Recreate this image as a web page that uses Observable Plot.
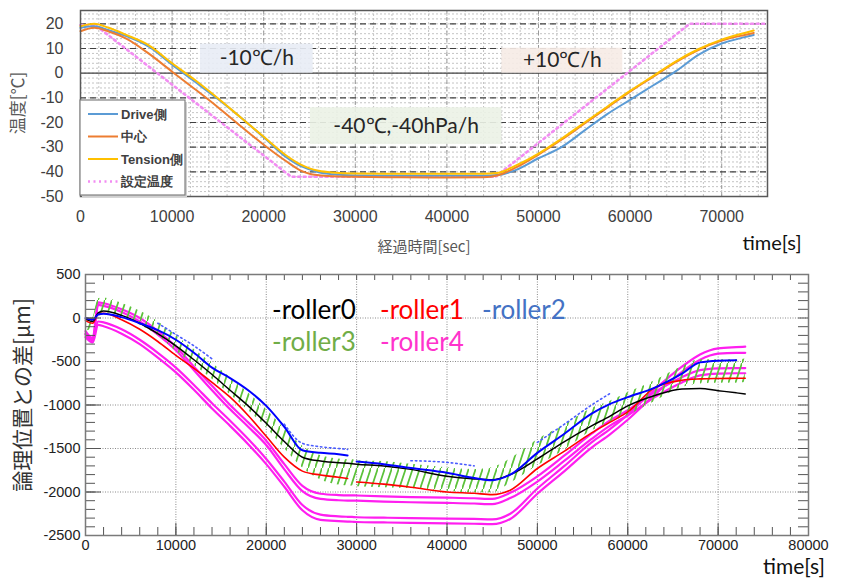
<!DOCTYPE html>
<html><head><meta charset="utf-8">
<script src="https://cdn.jsdelivr.net/npm/d3@7"></script>
<script src="https://cdn.jsdelivr.net/npm/@observablehq/plot@0.6"></script>
<style>
body{margin:0;background:#fff;}
#wrap{position:relative;width:844px;height:578px;overflow:hidden;}
#top{position:absolute;left:0;top:0;}
#bot{position:absolute;left:0;top:258px;}
svg{overflow:visible;}
</style></head><body><div id="wrap"><div id="top"></div><div id="bot"></div></div>
<script>
// ---------- TOP PANEL DATA (temperature, °C) ----------
const tTop = [0, 1500, 3000, 5000, 7500, 10000, 12500, 15000, 17500, 20000, 22500, 24000, 25000, 26000, 27500, 30000, 35000, 40000, 44000, 45500, 47500, 50000, 52500, 55000, 57500, 60000, 62500, 65000, 67500, 70000, 72500, 73500];
const driveTemp   = [18.4, 19, 17.5, 15, 10.6, 3.4, -3.5, -10.5, -18, -26, -34.2, -37.6, -39, -40.2, -41, -41.5, -41.6, -41.6, -41.6, -41.3, -39.3, -34.5, -30, -23.3, -16.6, -10.8, -5, 0.8, 7.5, 12, 14.6, 15.5];
const centerTemp  = [17, 18.4, 17, 14, 7.8, 0.6, -6.5, -13.8, -21.5, -29, -35.8, -39.4, -40.8, -41.4, -41.8, -42, -42.2, -42.3, -42.2, -41.5, -38.3, -33, -27, -20.5, -14, -7.5, -1.5, 4.5, 9.5, 13.2, 15.5, 16.3];
const tensionTemp = [19, 20, 18.5, 15.5, 11.2, 4.0, -2.8, -10.2, -18, -25.8, -33.5, -37, -38.6, -39.6, -40.3, -40.7, -40.8, -40.8, -40.8, -40.5, -37.5, -32.6, -26.6, -20.1, -13.6, -7.2, -1.2, 4.8, 9.8, 13.6, 16.3, 17.3];
const tSet = [0, 1600, 23000, 45300, 66500, 75000];
const setTemp = [19.5, 19.5, -42, -42, 20, 20];
const topXTicks = [0, 10000, 20000, 30000, 40000, 50000, 60000, 70000];
const topYTicks = [-50, -40, -30, -20, -10, 0, 10, 20];
const topNames = ["Drive側", "中心", "Tension側", "設定温度"];
const topColors = ["#5b9bd5", "#ed7d31", "#ffc000", "#f28cf2"];
const noteLabels = ["-10℃/h", "-40℃,-40hPa/h", "+10℃/h"];
const noteX1 = [13100, 25100, 46000];
const noteX2 = [25400, 46000, 59200];
const noteY1 = [0, -28.9, 0];
const noteY2 = [11.8, -14, 10.1];
const noteFills = ["#e8ecf5", "#ebf2e6", "#f6ebe5"];

// ---------- BOTTOM PANEL DATA (µm) ----------
const T = [0, 800, 1400, 2000, 4000, 6000, 8000, 10000, 12000, 14000, 16000, 18000, 20000, 22000, 24000, 26000, 28000, 29000, 29500, 30000, 33000, 36000, 40000, 43000, 45000, 47000, 50000, 53000, 56000, 58000, 60000, 63000, 66000, 68000, 70000, 72000, 73000];
const roller0 = [-10, -40, 60, 80, 30, -60, -180, -320, -480, -650, -830, -1010, -1210, -1420, -1600, -1645, -1665, -1670, -1675, -1680, -1700, -1740, -1820, -1850, -1860, -1800, -1620, -1420, -1240, -1130, -1010, -890, -815, -810, -835, -860, -873];
const roller1 = [-30, -60, 50, 55, -20, -130, -270, -430, -580, -740, -910, -1120, -1360, -1600, -1760, -1805, -1830, -1845, null, -1885, -1910, -1945, -2000, -2015, -2030, -1980, -1730, -1530, -1320, -1200, -1080, -800, -715, -700, -695, -693, -692];
const roller2 = [0, -20, 40, 50, 10, -60, -140, -250, -400, -570, -690, -830, -1010, -1250, -1520, -1550, -1565, -1580, null, -1650, -1680, -1725, -1780, -1840, -1865, -1800, -1550, -1330, -1100, -990, -910, -800, -640, -510, -490, -485, null];
const roller2b = [null, null, null, null, null, null, -60, -190, -320, -470, null, null, null, -1220, -1440, -1480, -1500, -1510, null, null, null, -1640, -1660, -1700, null, null, -1430, -1220, -1000, -870, null, null, null, null, null, null, null];
const roller3Hi = [-20, 0, 220, 230, 170, 80, -40, -200, -360, -520, -680, -860, -1050, -1270, -1470, -1580, -1620, -1630, -1630, -1640, -1650, -1680, -1720, -1740, -1720, -1620, -1400, -1230, -1040, -960, -860, -720, -560, -480, -480, -480, -470];
const roller3Lo = [-150, -120, 0, 60, 20, -80, -200, -380, -540, -700, -880, -1060, -1260, -1500, -1720, -1860, -1920, -1930, -1930, -1940, -1950, -1960, -1990, -2010, -2010, -1900, -1700, -1520, -1300, -1200, -1120, -960, -800, -760, -750, -750, -740];
const roller4a = [-150, -230, 180, 170, 100, 0, -150, -330, -560, -780, -1000, -1200, -1410, -1680, -1930, -2020, -2035, -2038, -2038, -2040, -2050, -2058, -2065, -2072, -2080, -2010, -1820, -1580, -1330, -1180, -1060, -850, -680, -600, -580, -575, -575];
const roller4b = [-190, -260, 150, 140, 70, -40, -190, -370, -600, -830, -1050, -1250, -1460, -1740, -1990, -2080, -2095, -2098, -2098, -2100, -2110, -2118, -2125, -2132, -2140, -2070, -1880, -1640, -1390, -1240, -1120, -910, -740, -660, -640, -635, -635];
const roller4c = [-180, -240, -40, -50, -130, -250, -400, -570, -770, -980, -1180, -1390, -1620, -1880, -2150, -2260, -2280, -2285, -2287, -2290, -2295, -2300, -2305, -2310, -2315, -2250, -1960, -1700, -1430, -1280, -1110, -820, -560, -420, -350, -335, -330];
const roller4d = [-220, -280, -80, -95, -180, -300, -455, -625, -825, -1040, -1240, -1450, -1680, -1940, -2210, -2320, -2335, -2340, -2342, -2345, -2350, -2355, -2360, -2365, -2370, -2310, -2020, -1760, -1490, -1340, -1170, -880, -620, -480, -410, -400, -400];
const botXTicks = [0, 10000, 20000, 30000, 40000, 50000, 60000, 70000, 80000];
const botYTicks = [-2500, -2000, -1500, -1000, -500, 0, 500];
const rollerNames = ["-roller0", "-roller1", "-roller2", "-roller3", "-roller4"];
const rollerTextColors = ["#000000", "#ff0000", "#4472c4", "#70ad47", "#ff33cc"];

// ---------- helpers ----------
const rows = (t, v) => t.map((x, i) => ({t: x, v: v[i]}));
const fmt = d => String(d);
const sansFont = "'Liberation Sans', Arial, sans-serif";
const jpFont = "'Noto Sans CJK JP', sans-serif";
const latoFont = "Lato, 'Open Sans', sans-serif";

// ---------- TOP PLOT ----------
const topLines = [driveTemp, centerTemp, tensionTemp].map((vals, i) =>
  Plot.line(rows(tTop, vals), {x: "t", y: "v", stroke: topColors[i], strokeWidth: 2, curve: "monotone-x"}));

const noteMarks = noteLabels.flatMap((lab, i) => [
  Plot.rect([i], {x1: () => noteX1[i], x2: () => noteX2[i], y1: () => noteY1[i], y2: () => noteY2[i], fill: noteFills[i], fillOpacity: 0.9}),
  Plot.text([i], {x: () => (noteX1[i] + noteX2[i]) / 2, y: () => (noteY1[i] + noteY2[i]) / 2, text: () => lab, fontSize: 21, fontFamily: latoFont, fill: "#262626"})
]);

const topPlot = Plot.plot({
  width: 844, height: 258,
  marginLeft: 80, marginRight: 77, marginTop: 10, marginBottom: 62,
  style: {fontFamily: sansFont, fontSize: "16px", color: "#404040", background: "transparent"},
  x: {domain: [0, 75000]},
  y: {domain: [-50, 25.4]},
  marks: [
    Plot.gridX(d3.range(2000, 75000, 2000), {stroke: "#c4c4c4", strokeOpacity: 1, strokeDasharray: "2,2"}),
    Plot.gridY(d3.range(-48, 25, 2), {stroke: "#c4c4c4", strokeOpacity: 1, strokeDasharray: "2,2"}),
    Plot.gridX(topXTicks.slice(1), {stroke: "#9a9a9a", strokeOpacity: 1, strokeDasharray: "4,3"}),
    Plot.gridY(topYTicks.filter(d => d !== 0 && d !== -50), {stroke: "#404040", strokeOpacity: 1, strokeDasharray: "6,4", strokeWidth: 1.2}),
    Plot.ruleY([0], {stroke: "#404040", strokeWidth: 1.2}),
    ...noteMarks,
    Plot.line(rows(tSet, setTemp), {x: "t", y: "v", stroke: topColors[3], strokeWidth: 2.6, strokeDasharray: "2,3.5"}),
    ...topLines,
    Plot.frame({stroke: "#595959", strokeWidth: 1.5}),
    Plot.axisX({ticks: topXTicks, tickSize: 0, tickPadding: 14, tickFormat: fmt, label: null}),
    Plot.axisY({ticks: topYTicks, tickSize: 0, tickPadding: 17, tickFormat: fmt, label: null})
  ]
});
document.getElementById("top").appendChild(topPlot);

const st = d3.select(topPlot);
// legend
const lg = st.append("g").attr("text-anchor", "start");
lg.append("rect").attr("x", 82).attr("y", 102).attr("width", 105).attr("height", 95).attr("fill", "#d0d0d0");
lg.append("rect").attr("x", 80).attr("y", 100).attr("width", 105).attr("height", 95).attr("fill", "#fff").attr("stroke", "#808080").attr("stroke-width", 1.2);
topNames.forEach((name, i) => {
  const y = 114 + i * 22.5;
  lg.append("line").attr("x1", 88).attr("x2", 118).attr("y1", y).attr("y2", y)
    .attr("stroke", topColors[i]).attr("stroke-width", i === 3 ? 2.6 : 2)
    .attr("stroke-dasharray", i === 3 ? "2,3.5" : null);
  lg.append("text").attr("x", 121).attr("y", y).attr("dy", "0.35em").attr("text-anchor", "start")
    .attr("font-family", sansFont).attr("font-size", 13).attr("font-weight", "bold")
    .attr("fill", "#404040").text(name);
});
st.append("text").attr("transform", "translate(18,103) rotate(-90)").attr("text-anchor", "middle")
  .attr("dy", "0.35em").attr("font-family", jpFont).attr("font-size", 17).attr("fill", "#595959").text("温度[℃]");
st.append("text").attr("x", 424).attr("y", 252).attr("text-anchor", "middle")
  .attr("font-family", jpFont).attr("font-size", 15).attr("fill", "#595959").text("経過時間[sec]");
st.append("text").attr("x", 772).attr("y", 250).attr("text-anchor", "middle")
  .attr("font-family", latoFont).attr("font-size", 20).attr("fill", "#111").text("time[s]");

// ---------- BOTTOM PLOT ----------
const plotW = 844 - 85 - 36, plotH = 320 - 16 - 43;
const greenRows = T.map((t, i) => ({t, hi: roller3Hi[i], lo: roller3Lo[i]}));
const magenta = "#ff1ef0";

const botPlot = Plot.plot({
  width: 844, height: 320,
  marginLeft: 85, marginRight: 36, marginTop: 16, marginBottom: 43,
  style: {fontFamily: sansFont, fontSize: "14.5px", color: "#222", background: "transparent"},
  x: {domain: [0, 80000]},
  y: {domain: [-2500, 500]},
  marks: [
    Plot.gridX(botXTicks.slice(1, -1), {stroke: "#8a8a8a", strokeOpacity: 1, strokeDasharray: "1,1.5"}),
    Plot.gridY(botYTicks.slice(1, -1), {stroke: "#8a8a8a", strokeOpacity: 1, strokeDasharray: "1,1.5"}),
    ...[roller4a, roller4b, roller4c, roller4d].map(v =>
      Plot.line(rows(T, v), {x: "t", y: "v", stroke: magenta, strokeWidth: 2.2, curve: "monotone-x"})),
    Plot.areaY(greenRows, {x: "t", y1: "lo", y2: "hi", fill: "url(#greenHatch)", curve: "monotone-x"}),
    Plot.line(rows(T, roller1), {x: "t", y: "v", stroke: "#ff0000", strokeWidth: 1.6, curve: "monotone-x"}),
    Plot.line(rows(T, roller0), {x: "t", y: "v", stroke: "#000000", strokeWidth: 1.5, curve: "monotone-x"}),
    Plot.line(rows(T, roller2), {x: "t", y: "v", stroke: "#0000ff", strokeWidth: 2, curve: "monotone-x"}),
    Plot.line(rows(T, roller2b), {x: "t", y: "v", stroke: "#4a5cff", strokeWidth: 1.6, strokeDasharray: "1.5,3", curve: "monotone-x"}),
    Plot.tickY(d3.range(-2500, 501, 100), {y: d => d, stroke: "#555", insetRight: plotW - 10}),
    Plot.tickY(botYTicks, {y: d => d, stroke: "#555", insetRight: plotW - 16}),
    Plot.tickY(d3.range(-2500, 501, 100), {y: d => d, stroke: "#555", insetLeft: plotW - 10}),
    Plot.tickX(d3.range(0, 80001, 2000), {x: d => d, stroke: "#555", insetBottom: plotH - 6}),
    Plot.tickX(d3.range(0, 80001, 2000), {x: d => d, stroke: "#555", insetTop: plotH - 8}),
    Plot.tickX(botXTicks, {x: d => d, stroke: "#555", insetTop: plotH - 12}),
    Plot.frame({stroke: "#7a7a7a", strokeWidth: 1.5}),
    Plot.axisX({ticks: botXTicks, tickSize: 0, tickPadding: 4, tickFormat: fmt, label: null}),
    Plot.axisY({ticks: botYTicks, tickSize: 0, tickPadding: 5, tickFormat: fmt, label: null})
  ]
});
document.getElementById("bot").appendChild(botPlot);

const sb = d3.select(botPlot);
const pat = sb.insert("defs", ":first-child").append("pattern")
  .attr("id", "greenHatch").attr("patternUnits", "userSpaceOnUse")
  .attr("width", 7).attr("height", 21);
pat.append("path").attr("d", "M-1,24L8,-3").attr("stroke", "#5cc23a").attr("stroke-width", 1.8);

const legendPos = [[272, 61], [380, 61], [482, 61], [272, 93], [380, 93]];
rollerNames.forEach((n, i) => {
  sb.append("text").attr("x", legendPos[i][0]).attr("y", legendPos[i][1]).attr("text-anchor", "start")
    .attr("font-family", latoFont).attr("font-size", 26).attr("fill", rollerTextColors[i]).text(n);
});
sb.append("text").attr("transform", "translate(23,137) rotate(-90)").attr("text-anchor", "middle")
  .attr("dy", "0.35em").attr("font-family", jpFont).attr("font-size", 21).attr("fill", "#333").text("論理位置との差[μm]");
sb.append("text").attr("x", 794).attr("y", 316).attr("text-anchor", "middle")
  .attr("font-family", latoFont).attr("font-size", 21).attr("fill", "#111").text("time[s]");
</script>
</body></html>
